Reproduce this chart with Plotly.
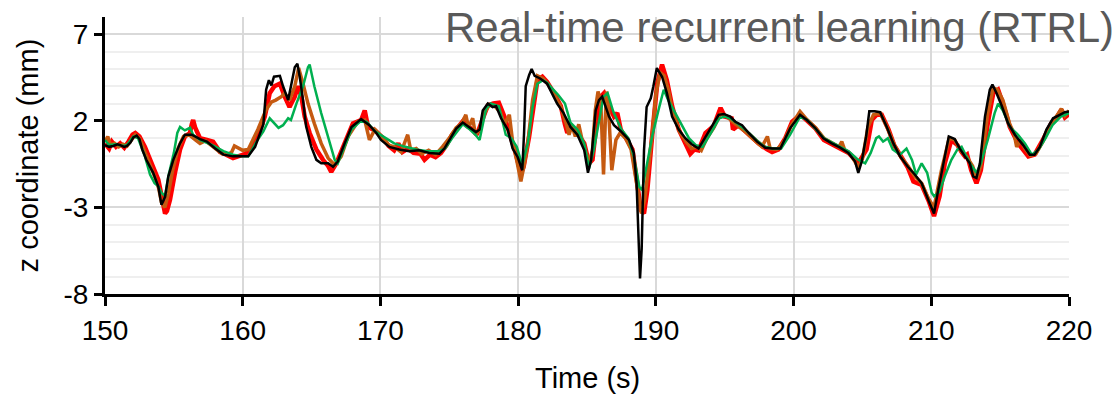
import plotly.graph_objects as go

# Measured z coordinate (black) and three RTRL predictions (red, brown, green)
t_meas = [150, 150.3, 150.6, 150.9, 151.1, 151.4, 151.6, 151.85, 152.06, 152.3, 152.5, 152.7, 153.0, 153.5, 153.87,
          154.1, 154.36, 154.6, 154.96, 155.45, 155.8, 156.3, 156.9, 157.4, 158.0, 158.6, 159.3, 160.4, 160.9, 161.2,
          161.5, 161.7, 161.9, 162.08, 162.27, 162.7, 162.93, 163.3, 163.5, 163.78, 163.97, 164.14, 164.38, 164.6,
          164.98, 165.35, 165.7, 166.2, 166.56, 166.9, 167.4, 167.9, 168.6, 169.2, 169.7, 170.04, 170.65, 171.37,
          172.1, 172.8, 173.55, 174.28, 174.64, 175.0, 175.5, 175.98, 176.46, 176.94, 177.2, 177.43, 177.8, 178.15,
          178.4, 178.76, 179.24, 179.6, 179.97, 180.3, 180.43, 180.55, 180.8, 180.98, 181.2, 181.6, 182.1, 182.46,
          182.83, 183.3, 183.8, 184.3, 184.8, 185.07, 185.3, 185.63, 185.87, 186.1, 186.24, 186.6, 186.96, 187.45,
          188.05, 188.4, 188.6, 188.76, 188.85, 188.97, 189.14, 189.33, 189.63, 189.82, 190.07, 190.45, 190.8,
          191.18, 191.66, 192.14, 192.6, 193.1, 193.47, 193.95, 194.56, 194.93, 195.4, 195.77, 196.26, 196.74,
          197.35, 197.95, 198.44, 199.04, 199.4, 199.77, 200.47, 200.96, 201.56, 202.16, 202.77, 203.38, 203.98,
          204.47, 204.7, 204.95, 205.27, 205.5, 205.9, 206.28, 206.77, 207.25, 207.73, 208.3, 208.8, 209.3, 209.8,
          210.2, 210.5, 210.86, 211.27, 211.7, 212.07, 212.44, 212.8, 213.04, 213.28, 213.53, 213.9, 214.25, 214.44,
          214.74, 215.1, 215.58, 216.07, 216.67, 217.15, 217.5, 217.88, 218.36, 218.84, 219.33, 219.7, 220]
z_meas = [0.6, 0.5, 0.55, 0.65, 0.6, 0.5, 0.55, 0.75, 1.05, 1.15, 0.95, 0.35, -0.25, -1.0, -1.8,
          -2.85, -2.4, -1.2, -0.25, 0.7, 1.2, 1.2, 0.95, 0.8, 0.4, 0.05, -0.05, -0.05, 0.5, 1.2,
          1.8, 3.8, 4.35, 4.05, 4.55, 4.6, 4.0, 3.2, 4.0, 5.1, 5.3, 4.55, 3.2, 1.7,
          0.5, -0.25, -0.45, -0.45, -0.65, -0.35, 0.7, 1.65, 2.1, 1.75, 1.3, 0.9, 0.5, 0.35,
          0.25, 0.3, 0.15, 0.1, 0.4, 0.9, 1.55, 1.9, 1.6, 1.35, 1.5, 2.6, 3.0, 2.8,
          2.85, 2.15, 1.5, 0.4, -0.1, -0.85, 1.3, 4.0, 4.65, 5.0, 4.6, 4.45, 4.15, 3.6,
          3.0, 2.45, 1.65, 1.2, 0.3, -1.0, -0.25, 2.6, 3.2, 3.4, 3.1, 2.25, 1.75, 1.4,
          0.9, 0.15, -1.6, -4.7, -7.1, -5.4, 0.3, 2.8, 3.3, 4.0, 5.05, 4.55, 3.6,
          2.25, 1.5, 1.0, 0.65, 0.4, 0.9, 1.5, 2.35, 2.4, 2.25, 1.95, 1.75, 1.3,
          0.8, 0.45, 0.4, 0.4, 1.0, 1.6, 2.35, 2.05, 1.6, 1.0, 0.7, 0.45, 0.15,
          -0.35, -1.0, -0.35, 1.1, 2.55, 2.55, 2.5, 1.65, 0.7, -0.05, -0.65, -1.1, -1.6, -2.6,
          -3.35, -2.0, -0.45, 1.1, 0.95, 0.4, -0.05, -0.45, -1.2, -1.3, -0.45, 2.25, 3.8, 4.1,
          3.6, 2.9, 1.85, 1.2, 0.6, 0.05, 0.05, 0.5, 1.5, 2.15, 2.35, 2.5, 2.55]

t_red = [150, 150.3, 150.5, 150.8, 151.1, 151.4, 151.7, 152.0, 152.2, 152.5, 152.9, 153.27, 153.6, 153.87, 154.1,
         154.36, 154.5, 154.72, 155.08, 155.45, 155.8, 156.17, 156.3, 156.4, 156.55, 156.66, 156.9, 157.4, 157.85,
         158.1, 158.35, 158.8, 159.3, 159.66, 160.2, 160.6, 161.1, 161.6, 161.96, 162.3, 162.7, 163.05, 163.4,
         163.78, 164.0, 164.26, 164.5, 164.86, 165.35, 165.83, 166.2, 166.43, 166.8, 167.4, 168.0, 168.6, 168.86,
         169.1, 169.6, 170.2, 170.6, 171.0, 171.3, 171.6, 172.0, 172.4, 172.9, 173.2, 173.6, 174.0, 174.4, 174.8,
         175.2, 175.6, 176.0, 176.3, 176.7, 177.0, 177.4, 177.8, 178.2, 178.6, 179.0, 179.4, 179.8, 180.2, 180.4,
         180.8, 181.15, 181.4, 181.76, 182.1, 182.6, 183.1, 183.4, 183.57, 183.8, 184.3, 184.8, 185.15, 185.4,
         185.75, 186.0, 186.24, 186.6, 186.96, 187.2, 187.45, 187.9, 188.3, 188.65, 188.9, 189.14, 189.38, 189.75,
         190.1, 190.45, 190.8, 191.18, 191.66, 192.14, 192.5, 192.8, 193.1, 193.6, 194.2, 194.7, 195.0, 195.5,
         195.6, 196.0, 196.74, 197.47, 198.08, 198.44, 198.9, 199.4, 199.9, 200.5, 201.0, 201.6, 202.2, 202.8,
         203.4, 204.0, 204.7, 205.3, 205.68, 206.04, 206.4, 206.9, 207.3, 207.8, 208.3, 208.7, 209.3, 209.8,
         210.2, 210.6, 210.98, 211.46, 211.9, 212.2, 212.44, 212.6, 212.9, 213.28, 213.6, 214.1, 214.5, 214.85,
         215.2, 215.7, 216.3, 217.05, 217.5, 218.1, 218.7, 219.2, 219.45, 219.7, 220]
z_red = [0.7, 0.4, 0.8, 0.5, 0.7, 0.45, 0.8, 1.2, 1.3, 1.1, 0.5, -0.25, -0.8, -1.4, -2.3,
         -3.35, -3.2, -2.55, -1.0, 0.35, 1.1, 1.3, 1.8, 2.05, 1.6, 1.45, 1.0, 0.9, 0.8,
         0.5, 0.2, 0.05, -0.15, -0.05, 0.1, 0.35, 1.1, 2.25, 3.6, 4.0, 4.15, 3.4, 2.8,
         3.4, 4.0, 3.4, 2.25, 1.3, 0.35, -0.25, -0.6, -0.95, -0.45, 0.7, 1.85, 2.05, 2.6,
         1.65, 1.45, 1.0, 0.55, 0.3, 0.7, 0.2, 0.4, 0.15, 0.1, -0.25, 0.05, -0.1, 0.15, 0.6,
         1.2, 1.6, 2.0, 1.7, 1.5, 1.2, 2.0, 2.9, 3.0, 3.05, 2.25, 1.3, 0.2, -1.05, -0.65,
         1.1, 3.2, 4.35, 4.55, 4.25, 3.6, 2.85, 1.8, 1.3, 1.65, 1.3, 0.7, -0.45, -0.25,
         2.25, 3.4, 3.6, 2.85, 2.25, 2.45, 1.5, 0.9, 0.35, -1.6, -3.15, -3.35, -2.0, 1.3,
         4.15, 5.25, 4.35, 2.85, 1.5, 0.7, 0.1, 0.35, 0.3, 1.3, 1.7, 2.75, 2.25, 2.15,
         1.5, 1.75, 1.2, 0.7, 0.35, 0.2, 0.35, 1.0, 1.95, 2.35, 2.0, 1.55, 0.9, 0.65,
         0.45, 0.15, -0.45, 0.35, 2.05, 2.35, 2.35, 1.5, 0.6, -0.1, -0.7, -1.5, -1.7, -2.6,
         -3.5, -2.35, -0.45, 0.9, 0.6, 0.2, -0.05, 0.05, -0.85, -1.6, -0.85, 1.85, 3.6, 3.8,
         3.0, 1.65, 0.7, -0.05, 0.05, 0.9, 1.85, 2.3, 2.65, 2.2, 2.4]

t_brown = [150, 150.2, 150.4, 150.7, 151.0, 151.3, 151.6, 151.9, 152.2, 152.5, 152.8, 153.2, 153.6, 153.9, 154.1,
           154.35, 154.6, 154.9, 155.3, 155.7, 156.1, 156.4, 156.7, 156.9, 157.3, 157.7, 158.1, 158.5, 158.9,
           159.2, 159.4, 159.7, 160.0, 160.4, 161.1, 161.7, 162.1, 162.4, 162.8, 163.05, 163.4, 163.78, 164.06,
           164.38, 164.74, 165.2, 165.7, 166.2, 166.68, 167.15, 167.65, 168.35, 168.86, 169.2, 169.6, 170.2,
           170.6, 171.0, 171.5, 171.98, 172.2, 172.6, 173.0, 173.5, 174.0, 174.5, 175.0, 175.5, 175.9, 176.2,
           176.4, 176.7, 176.9, 177.2, 177.5, 177.9, 178.3, 178.7, 179.0, 179.36, 179.6, 179.9, 180.2, 180.45,
           180.7, 181.05, 181.4, 181.8, 182.2, 182.7, 183.1, 183.5, 183.7, 183.9, 184.15, 184.4, 184.7, 185.0,
           185.15, 185.4, 185.6, 185.8, 186.0, 186.2, 186.4, 186.55, 186.8, 187.1, 187.4, 187.8, 188.2, 188.6,
           188.95, 189.2, 189.5, 189.75, 190.0, 190.3, 190.6, 190.9, 191.2, 191.7, 192.2, 192.6, 193.0, 193.3,
           193.7, 194.2, 194.7, 195.1, 195.5, 196.0, 196.6, 197.2, 197.7, 198.1, 198.3, 198.8, 199.3, 199.8,
           200.47, 201.0, 201.6, 202.2, 202.8, 203.3, 203.5, 203.7, 204.2, 204.7, 205.0, 205.4, 205.8, 206.3,
           206.8, 207.3, 207.8, 208.3, 208.8, 209.3, 209.8, 210.2, 210.74, 211.3, 211.7, 212.07, 212.6, 213.0,
           213.3, 213.6, 214.1, 214.5, 214.8, 215.2, 215.7, 216.0, 216.2, 216.5, 216.8, 217.2, 217.6, 218.1,
           218.5, 219.0, 219.45, 219.7, 220]
z_brown = [0.8, 1.1, 0.6, 0.7, 0.5, 0.65, 0.55, 0.9, 1.2, 1.0, 0.4, -0.3, -1.2, -1.9, -2.7,
           -3.0, -2.2, -0.9, 0.4, 1.1, 1.2, 1.0, 0.8, 0.7, 0.85, 0.6, 0.3, 0.1, 0.05,
           0.2, 0.55, 0.45, 0.3, 0.35, 1.5, 2.65, 3.1, 3.2, 3.4, 3.6, 3.2, 4.0, 5.05,
           4.15, 3.0, 1.85, 0.7, -0.15, -0.55, -0.05, 1.1, 1.95, 2.05, 0.9, 1.5, 1.0,
           0.6, 0.5, 0.2, 1.2, 0.3, 0.4, 0.1, 0.3, 0.05, 0.5, 1.0, 1.6, 1.85, 2.35,
           1.6, 2.15, 1.2, 1.5, 2.4, 2.9, 2.85, 2.5, 1.8, 2.35, 0.8, -0.3, -1.5, -0.5,
           0.7, 3.2, 4.6, 4.45, 4.1, 3.4, 2.8, 1.8, 1.2, 1.75, 1.1, 1.8, 0.7, 0.0,
           -0.45, 0.3, 2.6, 3.7, 3.1, -1.1, 3.7, 2.9, -0.85, 0.9, 1.3, 1.0, 0.35, -1.6,
           -3.35, -2.5, -0.5, 1.3, 3.5, 4.8, 4.6, 3.8, 2.6, 1.4, 0.8, 0.4, 0.5, 0.3,
           1.0, 1.6, 2.4, 2.3, 2.0, 1.7, 1.3, 0.85, 0.5, 1.1, 0.4, 0.35, 0.8, 1.7,
           2.55, 2.05, 1.6, 1.0, 0.7, 0.5, 0.8, 0.35, 0.0, -0.7, -0.2, 1.65, 2.35, 2.45,
           1.6, 0.65, -0.1, -0.6, -1.2, -1.6, -2.5, -3.0, -0.85, 1.0, 0.9, 0.35, -0.1, -0.6,
           -1.3, -0.6, 2.45, 3.9, 3.8, 3.2, 1.8, 1.3, 0.5, 0.9, 0.4, 0.0, 0.1, 0.8,
           1.55, 2.2, 2.7, 2.3, 2.6]

t_green = [150, 150.3, 150.8, 151.3, 151.6, 152.06, 152.4, 152.9, 153.27, 153.6, 153.9, 154.1, 154.36, 154.6, 155.0,
           155.25, 155.45, 155.8, 156.17, 156.4, 156.9, 157.8, 158.6, 159.3, 160.0, 160.4, 161.0, 161.5, 161.96,
           162.2, 162.6, 162.93, 163.3, 163.5, 163.9, 164.38, 164.74, 164.86, 165.2, 165.7, 166.2, 166.68, 166.9,
           167.4, 167.9, 168.5, 169.0, 169.6, 170.4, 171.0, 171.8, 172.6, 173.4, 174.2, 174.7, 175.2, 175.98,
           176.5, 176.9, 177.2, 177.67, 178.0, 178.6, 178.85, 179.1, 179.5, 179.9, 180.3, 180.7, 181.05, 181.4,
           181.8, 182.1, 182.9, 183.4, 183.8, 184.3, 184.8, 185.15, 185.5, 185.87, 186.2, 186.5, 186.9, 187.5,
           188.0, 188.4, 188.8, 189.0, 189.4, 189.73, 190.2, 190.57, 190.9, 191.4, 191.9, 192.4, 192.9, 193.4,
           194.0, 194.6, 195.0, 195.5, 196.0, 196.7, 197.3, 197.9, 198.5, 199.1, 199.75, 200.47, 201.0, 201.6,
           202.2, 202.8, 203.4, 204.0, 204.7, 205.2, 205.6, 206.0, 206.2, 206.5, 206.85, 207.2, 207.73, 208.2,
           208.6, 208.9, 209.3, 209.7, 210.03, 210.2, 210.6, 210.98, 211.46, 211.9, 212.2, 212.8, 213.28, 213.6,
           214.1, 214.6, 214.85, 215.2, 215.7, 216.3, 216.8, 217.3, 217.8, 218.3, 218.8, 219.4, 220]
z_green = [0.9, 0.6, 0.65, 0.55, 0.6, 1.1, 1.0, -0.05, -1.1, -1.6, -1.8, -2.15, -2.35, -1.2, 0.15,
           1.3, 1.65, 1.45, 1.6, 1.2, 0.9, 0.6, 0.25, 0.05, -0.05, -0.05, 0.8, 1.4, 2.15,
           1.95, 1.6, 1.75, 2.15, 2.05, 3.0, 4.0, 5.1, 5.25, 4.0, 2.45, 1.1, -0.25, -0.45,
           0.5, 1.5, 1.95, 1.95, 1.4, 1.0, 0.7, 0.5, 0.35, 0.25, 0.25, 0.4, 1.0, 1.8,
           1.5, 1.2, 0.9, 2.7, 3.0, 2.85, 2.0, 1.2, 1.0, 0.5, -0.55, 0.7, 2.8, 4.15,
           4.35, 4.2, 3.5, 3.0, 1.9, 1.5, 0.7, -0.75, 0.35, 1.9, 3.4, 3.6, 2.55, 1.5,
           1.0, -0.05, -1.8, -2.0, -0.25, 1.1, 2.65, 3.8, 3.2, 2.45, 1.75, 1.0, 0.6, 0.5,
           1.3, 2.15, 2.25, 2.1, 1.8, 1.35, 0.9, 0.5, 0.4, 0.4, 1.2, 2.25, 2.05, 1.55,
           1.0, 0.75, 0.5, 0.25, -0.25, -0.45, 0.15, 1.0, 1.1, 0.8, 1.0, 0.35, 0.05, 0.4,
           -0.25, -1.1, -0.45, -1.0, -2.15, -2.35, -2.1, -1.2, -0.25, 0.35, 0.5, -0.45, -1.0, -0.45,
           0.9, 2.45, 3.0, 2.6, 1.65, 1.2, 0.7, 0.05, 0.35, 1.0, 1.75, 2.25, 2.45]

x_ticks = [150, 160, 170, 180, 190, 200, 210, 220]
y_ticks = [-8, -3, 2, 7]
chart_title = "Real-time recurrent learning (RTRL)"
x_title = "Time (s)"
y_title = "z coordinate (mm)"

fig = go.Figure()
fig.add_trace(go.Scatter(x=t_red, y=z_red, mode="lines", name="RTRL (a)",
                         line=dict(color="#FF0000", width=4.5)))
fig.add_trace(go.Scatter(x=t_brown, y=z_brown, mode="lines", name="RTRL (b)",
                         line=dict(color="#C55A11", width=3.5)))
fig.add_trace(go.Scatter(x=t_green, y=z_green, mode="lines", name="RTRL (c)",
                         line=dict(color="#00B050", width=2.5)))
fig.add_trace(go.Scatter(x=t_meas, y=z_meas, mode="lines", name="Measured",
                         line=dict(color="#000000", width=2.5)))

fig.update_layout(
    width=1116, height=396,
    margin=dict(l=105, r=47, t=17, b=102),
    plot_bgcolor="white", paper_bgcolor="white",
    showlegend=False,
    font=dict(family="Arial, 'Liberation Sans', sans-serif", color="black"),
)
fig.update_xaxes(
    range=[150, 220], tickvals=x_ticks, ticktext=[str(v) for v in x_ticks],
    showgrid=True, gridcolor="#D9D9D9", gridwidth=2,
    showline=True, linecolor="black", linewidth=3,
    ticks="outside", ticklen=9, tickwidth=3, tickcolor="black",
    tickfont=dict(size=28), zeroline=False, automargin=False,
)
fig.update_yaxes(
    range=[-8, 8], tickvals=y_ticks, ticktext=[str(v) for v in y_ticks],
    showgrid=True, gridcolor="#D9D9D9", gridwidth=2,
    minor=dict(tick0=-8, dtick=1, showgrid=True, gridcolor="#EFEFEF", gridwidth=2, ticks=""),
    showline=True, linecolor="black", linewidth=3,
    ticks="outside", ticklen=8, tickwidth=3, tickcolor="black",
    tickfont=dict(size=28), zeroline=False, automargin=False,
)
# Axis titles placed as paper-anchored text
fig.add_annotation(
    text=x_title, xref="paper", yref="paper", x=0.5, y=-0.305,
    xanchor="center", yanchor="middle", showarrow=False, font=dict(size=29),
)
fig.add_annotation(
    text=y_title, xref="paper", yref="paper", x=-0.08, y=0.5, textangle=-90,
    xanchor="center", yanchor="middle", showarrow=False, font=dict(size=29),
)
fig.add_annotation(
    text=chart_title, xref="paper", yref="paper",
    x=1.049, y=0.962, xanchor="right", yanchor="middle",
    showarrow=False, font=dict(size=42, color="#595959"),
)

fig.write_html("out.html")
